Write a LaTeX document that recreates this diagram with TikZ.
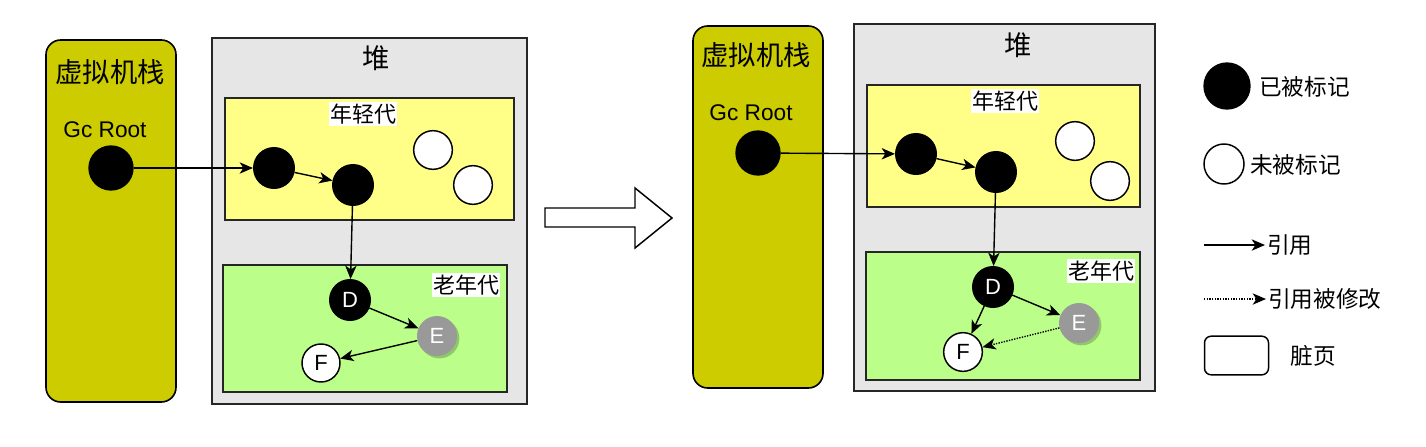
\documentclass[tikz,border=0pt]{standalone}
\usepackage{fontspec}
\setmainfont{Liberation Sans}
\newfontfamily\cjk{Noto Sans CJK SC}
\usetikzlibrary{arrows.meta,shadows}
\definecolor{stackc}{HTML}{CCCC00}
\definecolor{heapc}{HTML}{E6E6E6}
\definecolor{youngc}{HTML}{FFFF88}
\definecolor{oldc}{HTML}{BBFF8A}
\definecolor{grayc}{HTML}{999999}
\tikzset{
  stackbox/.style={draw=black,fill=stackc,line width=1.2pt,rounded corners=11pt},
  heapbox/.style={draw=black!85,fill=heapc,line width=1.1pt},
  youngbox/.style={draw=black!85,fill=youngc,line width=1.1pt},
  oldbox/.style={draw=black!85,fill=oldc,line width=1.1pt},
  blk/.style={circle,fill=black,draw=black,line width=1pt,inner sep=0pt,minimum size=30.5pt,text=white,font=\fontsize{16.5}{18}\selectfont},
  wht/.style={circle,fill=white,draw=black,line width=1.1pt,inner sep=0pt,minimum size=29pt,font=\fontsize{16.5}{18}\selectfont},
  gry/.style={circle,fill=grayc,inner sep=0pt,minimum size=30pt,text=white,font=\fontsize{16.5}{18}\selectfont,
    drop shadow={shadow xshift=1.8pt,shadow yshift=-1.8pt,opacity=0.22,fill=black}},
  reflink/.style={-{Stealth[length=10pt,width=8.5pt,inset=2.8pt]},line width=1.05pt},
  modlink/.style={reflink,dash pattern=on 1pt off 1pt},
  cjktitle/.style={inner sep=0pt,font=\cjk\fontsize{20.5}{22}\selectfont},
  cjklabel/.style={inner sep=1pt,fill=white,font=\cjk\fontsize{16.5}{18}\selectfont},
  legtext/.style={inner sep=0pt,anchor=west,font=\cjk\fontsize{17}{19}\selectfont},
  gctext/.style={inner sep=0pt,font=\fontsize{17}{19}\selectfont},
}
\begin{document}
\begin{tikzpicture}[x=0.75pt,y=-0.75pt]
\useasboundingbox[fill=white] (0,0) rectangle (1426,446);

% ---------------- left panel ----------------
\draw[stackbox] (46,40) rectangle (176,402);
\node[cjktitle] (lst) at (110,72) {虚拟机栈};
\node[gctext] (lgct) at (105,130) {Gc Root};
\node[blk,minimum size=33pt] (lgc) at (111,168) {};

\draw[heapbox] (212,38) rectangle (527,404);
\node[cjktitle] (lheap) at (376,58) {堆};
\draw[youngbox] (225,98) rectangle (514,220);
\node[cjklabel] (lyoung) at (363,114) {年轻代};
\draw[oldbox] (223,265) rectangle (507,392);
\node[cjklabel] (lold) at (466,285) {老年代};

\node[blk] (la) at (274,168) {};
\node[blk] (lb) at (353,185) {};
\node[wht] (lw1) at (433,150) {};
\node[wht] (lw2) at (473,185) {};
\node[blk] (ld) at (350,300) {D};
\node[gry] (le) at (437,336) {E};
\node[wht,minimum size=28.5pt] (lf) at (321,363) {F};

\draw[reflink] (lgc) -- (la);
\draw[reflink] (la) -- (lb);
\draw[reflink] (lb) -- (ld);
\draw[reflink] (ld) -- (le);
\draw[reflink] (le) -- (lf);

% ---------------- middle arrow ----------------
\draw[line width=1.1pt,fill=white,line join=miter]
  (545,208) -- (635,208) -- (635,188) -- (672,218) -- (635,248) -- (635,227) -- (545,227) -- cycle;

% ---------------- right panel ----------------
\draw[stackbox] (693,26) rectangle (823,388);
\node[cjktitle] (rst) at (756,55) {虚拟机栈};
\node[gctext] (rgct) at (751,113) {Gc Root};
\node[blk,minimum size=33pt] (rgc) at (758,153) {};

\draw[heapbox] (854,24) rectangle (1155,391);
\node[cjktitle] (rheap) at (1018,45) {堆};
\draw[youngbox] (867,85) rectangle (1140,207);
\node[cjklabel] (ryoung) at (1005,101) {年轻代};
\draw[oldbox] (866,252) rectangle (1140,380);
\node[cjklabel] (rold) at (1101,271) {老年代};

\node[blk] (ra) at (916,154) {};
\node[blk] (rb) at (996,172) {};
\node[wht] (rw1) at (1075,141) {};
\node[wht] (rw2) at (1110,181) {};
\node[blk] (rd) at (993,287) {D};
\node[gry] (re) at (1079,323) {E};
\node[wht,minimum size=29pt] (rf) at (963,352) {F};

\draw[reflink] (rgc) -- (ra);
\draw[reflink] (ra) -- (rb);
\draw[reflink] (rb) -- (rd);
\draw[reflink] (rd) -- (re);
\draw[reflink] (rd) -- (rf);
\draw[modlink] (re) -- (rf);

% ---------------- legend ----------------
\node[blk,minimum size=34.5pt] (lgblk) at (1227,86) {};
\node[legtext] (lgblkt) at (1259,87) {已被标记};
\node[wht,minimum size=30pt] (lgwht) at (1224,164) {};
\node[legtext] (lgwhtt) at (1250,165) {未被标记};
\coordinate (lgr1) at (1204,245);
\coordinate (lgr2) at (1265,245);
\draw[reflink] (lgr1) -- (lgr2);
\node[legtext] (lgrt) at (1267,245) {引用};
\coordinate (lgm1) at (1204,299);
\coordinate (lgm2) at (1266,299);
\draw[modlink] (lgm1) -- (lgm2);
\node[legtext] (lgmt) at (1268,299) {引用被修改};
\node[draw=black,line width=1.1pt,rounded corners=5pt,minimum width=48pt,minimum height=29pt,inner sep=0pt] (lgdirty) at (1236.5,355.5) {};
\node[inner sep=0pt,font=\cjk\fontsize{17}{19}\selectfont] (lgdirtyt) at (1313,356) {脏页};
\end{tikzpicture}
\end{document}
